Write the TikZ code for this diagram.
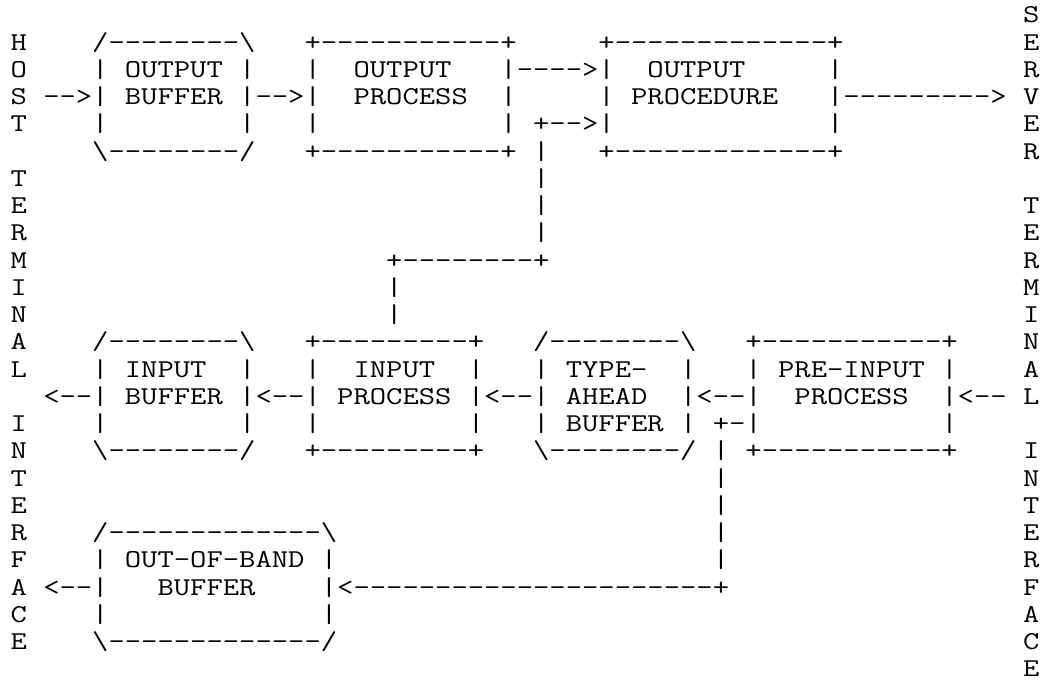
\documentclass[tikz,border=0pt]{standalone}
\usepackage{graphicx}
\newcount\tcnt
\newcommand\dsh[1]{\count255=#1\relax\loop\ifnum\count255>0 -\kern0pt \advance\count255 by -1 \repeat}
\tikzset{asc/.style={inner sep=0pt, outer sep=0pt, anchor=base west,
  font=\fontsize{25.7}{27}\selectfont\ttfamily}}
\newcommand\putc[3]{\global\advance\tcnt by 1
  \node[asc] (t\the\tcnt) at ({10.59pt+16.33pt*#1},{-22.85pt-27.25pt*#2})
   {\pgfmathsetmacro\sx{16.33/\the\fontcharwd\font`M}\scalebox{\sx}[1]{#3}};}
\begin{document}
\begin{tikzpicture}[x=1pt,y=1pt]
\useasboundingbox (0,0) rectangle (1045,-683);
% side labels
\foreach \r/\c in {1/H,2/O,3/S,4/T,6/T,7/E,8/R,9/M,10/I,11/N,12/A,13/L,15/I,16/N,17/T,18/E,19/R,20/F,21/A,22/C,23/E}
  {\putc{0}{\r}{\c}}
\foreach \r/\c in {0/S,1/E,2/R,3/V,4/E,5/R,7/T,8/E,9/R,10/M,11/I,12/N,13/A,14/L,16/I,17/N,18/T,19/E,20/R,21/F,22/A,23/C,24/E}
  {\putc{62}{\r}{\c}}
% row 1
\putc{5}{1}{/\dsh{8}\textbackslash}
\putc{18}{1}{+\dsh{11}+}
\putc{36}{1}{+\dsh{13}+}
% row 2
\putc{5}{2}{|}\putc{7}{2}{OUTPUT}\putc{14}{2}{|}
\putc{18}{2}{|}\putc{21}{2}{OUTPUT}\putc{30}{2}{|\dsh{4}>|}
\putc{39}{2}{OUTPUT}\putc{50}{2}{|}
% row 3
\putc{2}{3}{\dsh{2}>|}\putc{7}{3}{BUFFER}\putc{14}{3}{|\dsh{2}>|}
\putc{21}{3}{PROCESS}\putc{30}{3}{|}\putc{36}{3}{|}
\putc{38}{3}{PROCEDURE}\putc{50}{3}{|\dsh{9}>}
% row 4
\putc{5}{4}{|}\putc{14}{4}{|}\putc{18}{4}{|}\putc{30}{4}{|}
\putc{32}{4}{+\dsh{2}>|}\putc{50}{4}{|}
% row 5
\putc{5}{5}{\textbackslash\dsh{8}/}
\putc{18}{5}{+\dsh{11}+}
\putc{32}{5}{|}
\putc{36}{5}{+\dsh{13}+}
% connector rows
\foreach \r in {6,7,8} {\putc{32}{\r}{|}}
\putc{23}{9}{+\dsh{8}+}
\foreach \r in {10,11} {\putc{23}{\r}{|}}
% row 12
\putc{5}{12}{/\dsh{8}\textbackslash}
\putc{18}{12}{+\dsh{9}+}
\putc{32}{12}{/\dsh{8}\textbackslash}
\putc{45}{12}{+\dsh{11}+}
% row 13
\putc{5}{13}{|}\putc{7}{13}{INPUT}\putc{14}{13}{|}
\putc{18}{13}{|}\putc{21}{13}{INPUT}\putc{28}{13}{|}
\putc{32}{13}{|}\putc{34}{13}{TYPE-}\putc{41}{13}{|}
\putc{45}{13}{|}\putc{47}{13}{PRE-INPUT}\putc{57}{13}{|}
% row 14
\putc{2}{14}{<\dsh{2}|}\putc{7}{14}{BUFFER}\putc{14}{14}{|<\dsh{2}|}
\putc{20}{14}{PROCESS}\putc{28}{14}{|<\dsh{2}|}
\putc{34}{14}{AHEAD}\putc{41}{14}{|<\dsh{2}|}
\putc{48}{14}{PROCESS}\putc{57}{14}{|<\dsh{2}}
% row 15
\putc{5}{15}{|}\putc{14}{15}{|}\putc{18}{15}{|}\putc{28}{15}{|}
\putc{32}{15}{|}\putc{34}{15}{BUFFER}\putc{41}{15}{|}
\putc{43}{15}{+\dsh{1}|}\putc{57}{15}{|}
% row 16
\putc{5}{16}{\textbackslash\dsh{8}/}
\putc{18}{16}{+\dsh{9}+}
\putc{32}{16}{\textbackslash\dsh{8}/}
\putc{43}{16}{|}
\putc{45}{16}{+\dsh{11}+}
% vertical to out-of-band
\foreach \r in {17,18,19,20} {\putc{43}{\r}{|}}
% out-of-band box
\putc{5}{19}{/\dsh{13}\textbackslash}
\putc{5}{20}{|}\putc{7}{20}{OUT-OF-BAND}\putc{19}{20}{|}
\putc{2}{21}{<\dsh{2}|}\putc{9}{21}{BUFFER}\putc{19}{21}{|<\dsh{22}+}
\putc{5}{22}{|}\putc{19}{22}{|}
\putc{5}{23}{\textbackslash\dsh{13}/}
\end{tikzpicture}
\end{document}
